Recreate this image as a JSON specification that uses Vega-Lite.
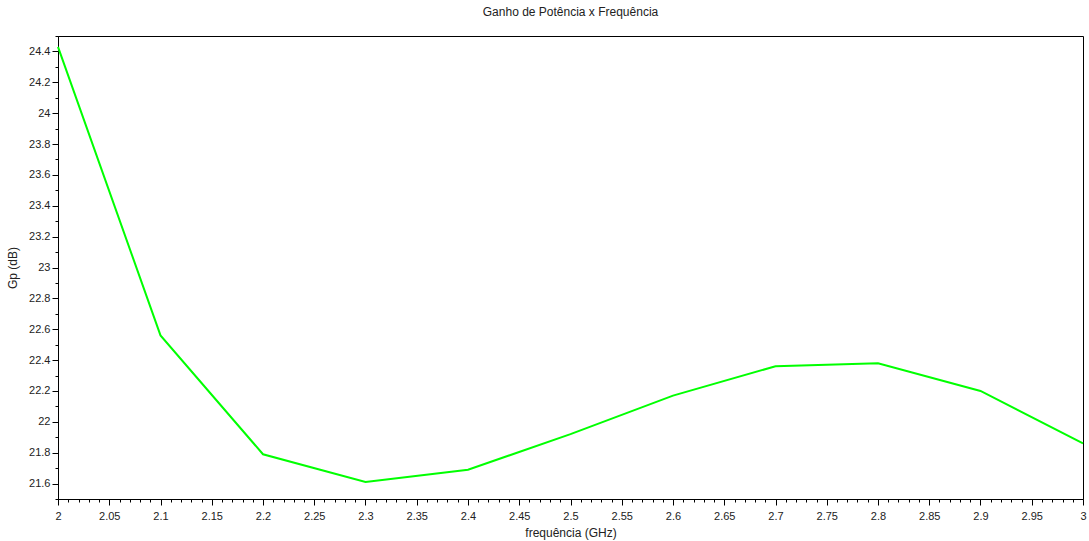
{
  "$schema": "https://vega.github.io/schema/vega-lite/v6.json",
  "autosize": {"type": "none"},
  "width": 1025,
  "height": 463,
  "padding": {"left": 58, "top": 36, "right": 6, "bottom": 42},
  "background": "white",
  "title": {"text": "Ganho de Potência x Frequência", "font": "Liberation Sans", "fontSize": 12, "fontWeight": "normal", "color": "#222222", "offset": 11, "anchor": "middle"},
  "config": {"view": {"stroke": "black", "strokeWidth": 1}},
  "data": {"values": [
    {"f": 2.0, "gp": 24.43},
    {"f": 2.1, "gp": 22.56},
    {"f": 2.2, "gp": 21.79},
    {"f": 2.3, "gp": 21.61},
    {"f": 2.4, "gp": 21.69},
    {"f": 2.5, "gp": 21.92},
    {"f": 2.6, "gp": 22.17},
    {"f": 2.7, "gp": 22.36},
    {"f": 2.8, "gp": 22.38},
    {"f": 2.9, "gp": 22.2},
    {"f": 3.0, "gp": 21.86}
  ]},
  "mark": {"type": "line", "color": "#00ff00", "strokeWidth": 2},
  "encoding": {
    "x": {
      "field": "f", "type": "quantitative",
      "scale": {"domain": [2, 3], "nice": false, "zero": false},
      "axis": {
        "title": "frequência (GHz)",
        "titleFont": "Liberation Sans", "titleFontSize": 12, "titleFontWeight": "normal", "titleColor": "#222222", "titlePadding": 6,
        "values": [2,2.01,2.02,2.03,2.04,2.05,2.06,2.07,2.08,2.09,2.1,2.11,2.12,2.13,2.14,2.15,2.16,2.17,2.18,2.19,2.2,2.21,2.22,2.23,2.24,2.25,2.26,2.27,2.28,2.29,2.3,2.31,2.32,2.33,2.34,2.35,2.36,2.37,2.38,2.39,2.4,2.41,2.42,2.43,2.44,2.45,2.46,2.47,2.48,2.49,2.5,2.51,2.52,2.53,2.54,2.55,2.56,2.57,2.58,2.59,2.6,2.61,2.62,2.63,2.64,2.65,2.66,2.67,2.68,2.69,2.7,2.71,2.72,2.73,2.74,2.75,2.76,2.77,2.78,2.79,2.8,2.81,2.82,2.83,2.84,2.85,2.86,2.87,2.88,2.89,2.9,2.91,2.92,2.93,2.94,2.95,2.96,2.97,2.98,2.99,3],
        "labelExpr": "abs(datum.value*20 - round(datum.value*20)) < 0.001 ? format(datum.value, '.3~f') : ''",
        "labelOverlap": false,
        "labelFlush": false,
        "labelFont": "Liberation Sans", "labelFontSize": 11, "labelColor": "#222222", "labelPadding": 5,
        "tickSize": {"condition": {"test": "abs(datum.value*20 - round(datum.value*20)) < 0.001", "value": 6}, "value": 3},
        "tickColor": "black", "domainColor": "black", "grid": false
      }
    },
    "y": {
      "field": "gp", "type": "quantitative",
      "scale": {"domain": [21.5, 24.5], "nice": false, "zero": false},
      "axis": {
        "title": "Gp (dB)",
        "titleFont": "Liberation Sans", "titleFontSize": 12, "titleFontWeight": "normal", "titleColor": "#222222", "titlePadding": 9,
        "values": [21.5,21.6,21.7,21.8,21.9,22,22.1,22.2,22.3,22.4,22.5,22.6,22.7,22.8,22.9,23,23.1,23.2,23.3,23.4,23.5,23.6,23.7,23.8,23.9,24,24.1,24.2,24.3,24.4,24.5],
        "labelExpr": "abs(datum.value*5 - round(datum.value*5)) < 0.001 ? format(datum.value, '.2~f') : ''",
        "labelOverlap": false,
        "labelFlush": false,
        "labelFont": "Liberation Sans", "labelFontSize": 11, "labelColor": "#222222", "labelPadding": 2,
        "tickSize": {"condition": {"test": "abs(datum.value*5 - round(datum.value*5)) < 0.001", "value": 6}, "value": 3},
        "tickColor": "black", "domainColor": "black", "grid": false
      }
    }
  }
}
